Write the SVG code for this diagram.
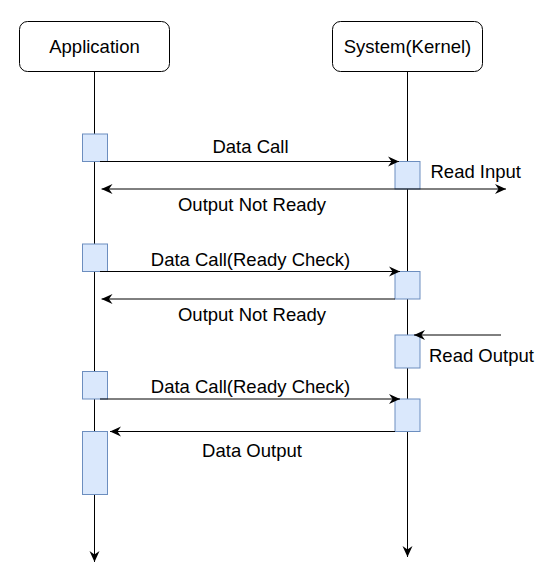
<svg xmlns="http://www.w3.org/2000/svg" width="557" height="579" viewBox="0 0 557 579">
<style>
  .box{fill:#ffffff;stroke:#000000;stroke-width:1}
  .act{fill:#dae8fc;stroke:#6c8ebf;stroke-width:1}
  .ln{fill:none;stroke:#000000;stroke-width:1}
  .t{font-family:"Liberation Sans",Arial,Helvetica,sans-serif;font-size:18.5px;fill:#000000}
  .c{text-anchor:middle}
</style>
<defs>
  <marker id="arr" viewBox="0 0 11 11" refX="11" refY="5.5" markerWidth="11" markerHeight="11" markerUnits="userSpaceOnUse" orient="auto">
    <path d="M0,0.5 L11,5.5 L0,10.5 L3.5,5.5 Z" fill="#000000"/>
  </marker>
</defs>
<rect width="557" height="579" fill="#ffffff"/>
<g id="lifelines">
  <line class="ln" x1="94.5" y1="71.5" x2="94.5" y2="562" marker-end="url(#arr)"/>
  <line class="ln" x1="407.5" y1="71.5" x2="407.5" y2="557" marker-end="url(#arr)"/>
</g>
<g id="application">
  <rect class="box" x="19.5" y="21.5" width="150" height="50" rx="8"/>
  <text class="t c" x="94.5" y="53">Application</text>
</g>
<g id="system">
  <rect class="box" x="332.5" y="21.5" width="150" height="50" rx="8"/>
  <text class="t c" x="407.5" y="53">System(Kernel)</text>
</g>
<g id="activations">
  <rect id="app-act1" class="act" x="82.5" y="134" width="25" height="27.5"/>
  <rect id="app-act2" class="act" x="82.5" y="244" width="25" height="27.5"/>
  <rect id="app-act3" class="act" x="82.5" y="371.5" width="25" height="27.5"/>
  <rect id="app-act4" class="act" x="82.5" y="431.5" width="25" height="63"/>
  <rect id="sys-act1" class="act" x="395" y="161.5" width="25" height="27.5"/>
  <rect id="sys-act2" class="act" x="395" y="271.5" width="25" height="27.5"/>
  <rect id="sys-act3" class="act" x="395" y="335" width="25" height="33"/>
  <rect id="sys-act4" class="act" x="395" y="399" width="25" height="32.5"/>
</g>
<g id="connectors">
  <line class="ln" x1="100" y1="161.5" x2="399" y2="161.5" marker-end="url(#arr)"/>
  <line class="ln" x1="395" y1="189" x2="101.5" y2="189" marker-end="url(#arr)"/>
  <line class="ln" x1="395" y1="189" x2="506" y2="189" marker-end="url(#arr)"/>
  <line class="ln" x1="100" y1="271.5" x2="400" y2="271.5" marker-end="url(#arr)"/>
  <line class="ln" x1="395" y1="299" x2="101.5" y2="299" marker-end="url(#arr)"/>
  <line class="ln" x1="501" y1="335" x2="414" y2="335" marker-end="url(#arr)"/>
  <line class="ln" x1="100" y1="399" x2="400" y2="399" marker-end="url(#arr)"/>
  <line class="ln" x1="395" y1="431.5" x2="110" y2="431.5" marker-end="url(#arr)"/>
</g>
<g id="labels">
  <text class="t c" x="250.5" y="153">Data Call</text>
  <text class="t" x="430.5" y="178">Read Input</text>
  <text class="t c" x="252" y="211">Output Not Ready</text>
  <text class="t c" x="250.5" y="266">Data Call(Ready Check)</text>
  <text class="t c" x="252" y="321">Output Not Ready</text>
  <text class="t" x="429" y="362">Read Output</text>
  <text class="t c" x="250.5" y="393">Data Call(Ready Check)</text>
  <text class="t c" x="252" y="457">Data Output</text>
</g>
</svg>
